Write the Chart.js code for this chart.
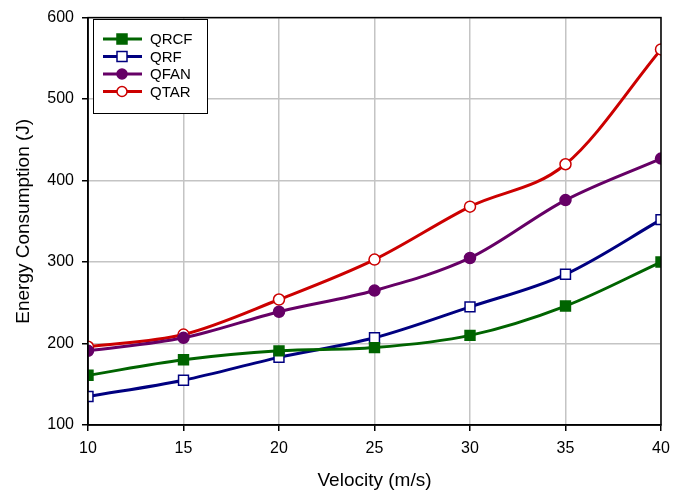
<!DOCTYPE html>
<html>
<head>
<meta charset="utf-8">
<script src="https://cdn.jsdelivr.net/npm/chart.js@4/dist/chart.umd.min.js"></script>
<style>
  html, body { margin: 0; padding: 0; background: #fff; }
  #wrap { width: 694px; height: 496px; }
</style>
</head>
<body>
<div id="wrap"><canvas id="energyChart" width="694" height="496"></canvas></div>
<script>
// velocity values (m/s)
const velocity = [10, 15, 20, 25, 30, 35, 40];
// energy consumption (J) per method
const qrcf = [161, 180, 191, 195, 210, 246, 300];
const qrf  = [135, 155, 183, 207, 245, 285, 352];
const qfan = [191, 207, 239, 265, 305, 376, 427];
const qtar = [196, 211, 254, 303, 368, 420, 561];
const seriesNames = ["QRCF", "QRF", "QFAN", "QTAR"];
const xTicks = [10, 15, 20, 25, 30, 35, 40];
const yTicks = [100, 200, 300, 400, 500, 600];

const FONT = '"Liberation Sans", Arial, sans-serif';
const toPoints = arr => arr.map((v, i) => ({ x: velocity[i], y: v }));

function makeSet(name, data, color, shape, filled) {
    return {
        label: name,
        data: toPoints(data),
        borderColor: color,
        backgroundColor: color,
        borderWidth: 3,
        pointStyle: shape,
        pointRadius: shape === 'rect' ? 7 : 5.5,
        pointBorderWidth: 1.5,
        pointBorderColor: color,
        pointBackgroundColor: filled ? color : '#ffffff',
        cubicInterpolationMode: 'monotone',
        fill: false
    };
}

// frame + in-plot legend
const framePlugin = {
    id: 'frame',
    afterDraw(chart) {
        const c = chart.ctx, a = chart.chartArea;
        c.save();
        c.strokeStyle = '#000';
        c.lineWidth = 1.5;
        c.strokeRect(a.left, a.top, a.right - a.left, a.bottom - a.top);

        // legend box
        const bx = 93, by = 19, bw = 114, bh = 94;
        c.fillStyle = '#fff';
        c.fillRect(bx, by, bw, bh);
        c.lineWidth = 1;
        c.strokeRect(bx + 0.5, by + 0.5, bw, bh);
        c.font = '15px ' + FONT;
        c.textBaseline = 'middle';
        chart.data.datasets.forEach((ds, i) => {
            const y = 39 + i * 17.5;
            c.strokeStyle = ds.borderColor;
            c.lineWidth = 3;
            c.beginPath();
            c.moveTo(103, y);
            c.lineTo(142, y);
            c.stroke();
            c.fillStyle = ds.pointBackgroundColor;
            c.lineWidth = 1.5;
            c.beginPath();
            if (ds.pointStyle === 'rect') {
                c.rect(117, y - 5, 10, 10);
            } else {
                c.arc(122, y, 5, 0, Math.PI * 2);
            }
            c.fill();
            c.stroke();
            c.fillStyle = '#000';
            c.fillText(ds.label, 150, y + 1);
        });
        c.restore();
    }
};

const ctx = document.getElementById("energyChart").getContext("2d");
new Chart(ctx, {
    type: 'line',
    data: {
        datasets: [
            makeSet(seriesNames[0], qrcf, '#006400', 'rect', true),
            makeSet(seriesNames[1], qrf, '#000080', 'rect', false),
            makeSet(seriesNames[2], qfan, '#660066', 'circle', true),
            makeSet(seriesNames[3], qtar, '#cc0000', 'circle', false)
        ]
    },
    options: {
        responsive: false,
        animation: false,
        layout: { padding: { left: 0, top: 15, right: 33, bottom: 0 } },
        plugins: {
            legend: { display: false },
            tooltip: { enabled: false }
        },
        scales: {
            x: {
                type: 'linear',
                min: 10, max: 40,
                afterBuildTicks: s => { s.ticks = xTicks.map(v => ({ value: v })); },
                afterFit: s => { s.height = 71; },
                grid: { color: '#c4c4c4', lineWidth: 1.5, tickColor: '#000', tickLength: 6 },
                border: { color: '#000', width: 1.5 },
                ticks: { color: '#000', font: { size: 16, family: FONT }, padding: 8 },
                title: { display: true, text: 'Velocity (m/s)', color: '#000',
                         font: { size: 19, family: FONT }, padding: { top: 0, bottom: 4 } }
            },
            y: {
                min: 100, max: 600,
                afterBuildTicks: s => { s.ticks = yTicks.map(v => ({ value: v })); },
                afterFit: s => { s.width = 88; },
                grid: { color: '#c4c4c4', lineWidth: 1.5, tickColor: '#000', tickLength: 6 },
                border: { color: '#000', width: 1.5 },
                ticks: { color: '#000', font: { size: 16, family: FONT }, padding: 8 },
                title: { display: true, text: 'Energy Consumption (J)', color: '#000',
                         font: { size: 19, family: FONT }, padding: { top: 12, bottom: 0 } }
            }
        }
    },
    plugins: [framePlugin]
});
</script>
</body>
</html>
